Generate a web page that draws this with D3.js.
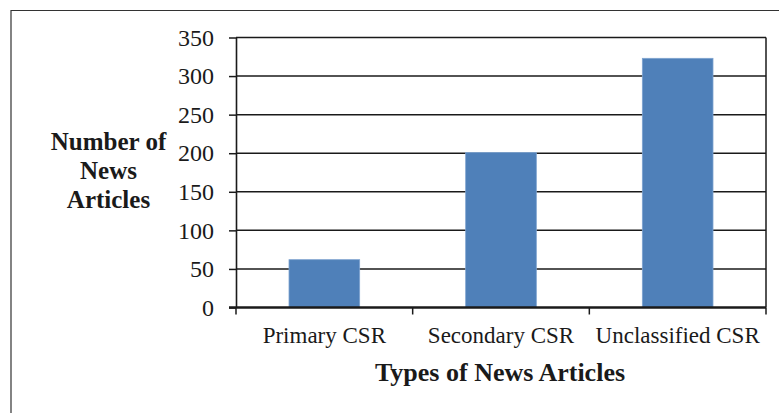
<!DOCTYPE html>
<html>
<head>
<meta charset="utf-8">
<script src="https://cdnjs.cloudflare.com/ajax/libs/d3/7.8.5/d3.min.js"></script>
<style>
  html, body { margin: 0; padding: 0; background: #fff; }
  svg { display: block; }
  text { font-family: "Liberation Serif", "Times New Roman", serif; fill: #1a1a1a; }
</style>
</head>
<body>
<svg id="chart" width="779" height="413"></svg>
<script>
// Article counts per CSR type
const categories = ["Primary CSR", "Secondary CSR", "Unclassified CSR"];
const counts = [62, 201, 323];
const yTicks = [0, 50, 100, 150, 200, 250, 300, 350];
const xTitle = "Types of News Articles";
const yTitleLines = ["Number of", "News", "Articles"];

const svg = d3.select("#chart");
const W = 779, H = 413;
const plot = { left: 236, right: 766, top: 37.5, bottom: 307.5 };

// Outer chart frame (only top and left edges fall inside the view)
svg.append("path")
  .attr("d", `M11,${H} L11,10.5 L${W},10.5`)
  .attr("fill", "none")
  .attr("stroke", "#333")
  .attr("stroke-width", 1.2);

const x = d3.scaleBand()
  .domain(categories)
  .range([plot.left, plot.right])
  .paddingInner(0.6)
  .paddingOuter(0.3);

const y = d3.scaleLinear()
  .domain([0, 350])
  .range([plot.bottom, plot.top]);

// Horizontal gridlines
svg.append("g")
  .selectAll("line")
  .data(yTicks.filter(d => d > 0))
  .join("line")
  .attr("x1", plot.left)
  .attr("x2", plot.right)
  .attr("y1", d => y(d))
  .attr("y2", d => y(d))
  .attr("stroke", "#1a1a1a")
  .attr("stroke-width", 1.5);

// Right edge of plot area
svg.append("line")
  .attr("x1", plot.right).attr("x2", plot.right)
  .attr("y1", plot.top).attr("y2", plot.bottom)
  .attr("stroke", "#1a1a1a")
  .attr("stroke-width", 1.5);

// Bars
svg.append("g")
  .selectAll("rect")
  .data(categories)
  .join("rect")
  .attr("x", d => x(d))
  .attr("width", x.bandwidth())
  .attr("y", (d, i) => y(counts[i]))
  .attr("height", (d, i) => y(0) - y(counts[i]))
  .attr("fill", "#4f80b9")
  .attr("stroke", "#7ea3d0")
  .attr("stroke-width", 0.8);

// Y axis
const yAxis = svg.append("g")
  .attr("transform", `translate(${plot.left},0)`)
  .call(d3.axisLeft(y).tickValues(yTicks).tickSize(7).tickPadding(15).tickSizeOuter(0));
yAxis.select(".domain").attr("stroke", "#1a1a1a").attr("stroke-width", 1.6);
yAxis.selectAll(".tick line").attr("stroke", "#1a1a1a").attr("stroke-width", 1.5);
yAxis.selectAll(".tick text")
  .attr("font-family", "Liberation Serif, serif")
  .attr("font-size", 24)
  .attr("fill", "#1a1a1a");

// X axis with ticks at category boundaries
const boundaries = [plot.left].concat(categories.map(c => x(c) + x.bandwidth() + x.step() * 0.3));
const xg = svg.append("g");
xg.append("line")
  .attr("x1", plot.left - 7).attr("x2", plot.right)
  .attr("y1", plot.bottom).attr("y2", plot.bottom)
  .attr("stroke", "#1a1a1a").attr("stroke-width", 2.5);
xg.selectAll("line.tk")
  .data(boundaries)
  .join("line")
  .attr("class", "tk")
  .attr("x1", d => d).attr("x2", d => d)
  .attr("y1", plot.bottom).attr("y2", plot.bottom + 7)
  .attr("stroke", "#1a1a1a").attr("stroke-width", 1.5);
xg.selectAll("text")
  .data(categories)
  .join("text")
  .attr("x", d => x(d) + x.bandwidth() / 2)
  .attr("y", 343)
  .attr("text-anchor", "middle")
  .attr("font-size", 23)
  .text(d => d);

// Axis titles
svg.append("text")
  .attr("x", 500)
  .attr("y", 381)
  .attr("text-anchor", "middle")
  .attr("font-weight", "bold")
  .attr("font-size", 26)
  .text(xTitle);

svg.append("text")
  .attr("text-anchor", "middle")
  .attr("font-weight", "bold")
  .attr("font-size", 25)
  .selectAll("tspan")
  .data(yTitleLines)
  .join("tspan")
  .attr("x", 108.5)
  .attr("y", (d, i) => 150 + i * 29)
  .text(d => d);
</script>
</body>
</html>
